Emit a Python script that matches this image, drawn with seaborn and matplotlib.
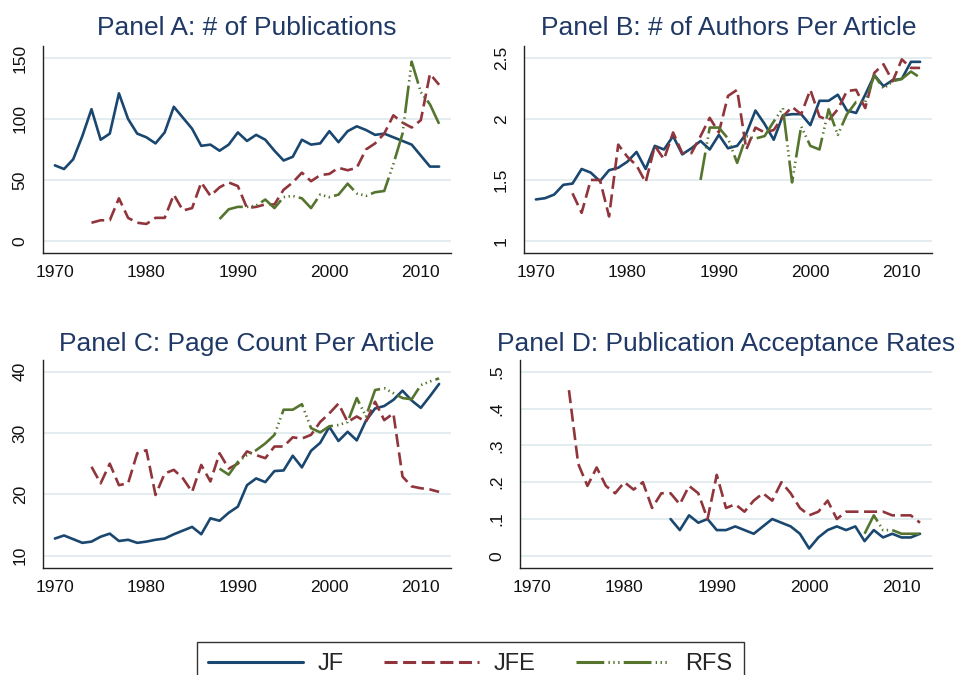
import pandas as pd
import matplotlib.pyplot as plt
import seaborn as sns
from matplotlib.lines import Line2D
from matplotlib.ticker import FuncFormatter

# years covered by each series
years_jf = list(range(1970, 2013))
years_jfe = list(range(1974, 2013))
years_rfs = list(range(1988, 2013))
years_jf_rate = list(range(1985, 2013))
years_jfe_rate = list(range(1974, 2013))
years_rfs_rate = list(range(2006, 2013))

# Panel A: number of publications
pubs_jf = [62, 59, 67, 86, 108, 83, 88, 121, 100, 88,
           85, 80, 89, 110, 101, 92, 78, 79, 74, 79,
           89, 82, 87, 83, 74, 66, 69, 83, 79, 80,
           90, 81, 90, 94, 91, 87, 88, 85, 82, 79,
           70, 61, 61]
pubs_jfe = [15, 17, 17, 35, 19, 15,
            14, 19, 19, 38, 25, 27, 48, 37, 44, 48,
            45, 27, 28, 30, 30, 42, 48, 56, 49, 54,
            55, 60, 58, 60, 75, 80, 88, 103, 97, 93,
            99, 137, 128]
pubs_rfs = [18, 26,
            28, 28, 29, 34, 27, 36, 37, 35, 27, 38,
            36, 38, 47, 39, 37, 40, 41, 63, 88, 147,
            122, 112, 96]

# Panel B: authors per article
authors_jf = [1.34, 1.35, 1.38, 1.46, 1.47, 1.59, 1.56, 1.49, 1.58, 1.60,
              1.65, 1.73, 1.59, 1.78, 1.75, 1.86, 1.71, 1.76, 1.82, 1.75,
              1.87, 1.76, 1.78, 1.88, 2.07, 1.96, 1.83, 2.03, 2.04, 2.04,
              1.95, 2.15, 2.15, 2.20, 2.07, 2.05, 2.20, 2.36, 2.27, 2.32,
              2.33, 2.47, 2.47]
authors_jfe = [1.39, 1.23, 1.50, 1.50, 1.20, 1.79,
               1.69, 1.62, 1.48, 1.78, 1.67, 1.89, 1.72, 1.72, 1.86, 2.01,
               1.89, 2.19, 2.24, 1.75, 1.93, 1.89, 1.91, 2.02, 2.10, 2.04,
               2.24, 2.02, 1.99, 2.08, 2.23, 2.24, 2.09, 2.38, 2.45, 2.31,
               2.49, 2.42, 2.42]
authors_rfs = [1.50, 1.93,
               1.93, 1.84, 1.64, 1.86, 1.84, 1.86, 1.98, 2.09, 1.48, 1.94,
               1.78, 1.75, 2.08, 1.87, 2.04, 2.14, 2.14, 2.36, 2.25, 2.31,
               2.33, 2.39, 2.34]

# Panel C: page count per article
pages_jf = [12.8, 13.3, 12.7, 12.1, 12.3, 13.1, 13.6, 12.4, 12.6, 12.1,
            12.3, 12.6, 12.8, 13.5, 14.1, 14.7, 13.5, 16.1, 15.7, 17.0,
            18.0, 21.5, 22.6, 22.0, 23.8, 23.9, 26.3, 24.4, 27.1, 28.4,
            31.0, 28.7, 30.2, 28.8, 32.0, 34.0, 34.4, 35.4, 36.9, 35.3,
            34.1, 36.0, 38.0]
pages_jfe = [24.5, 21.8, 25.0, 21.5, 21.8, 26.7,
             27.2, 19.9, 23.4, 24.0, 22.6, 20.4, 24.8, 22.1, 26.7, 24.2,
             25.0, 27.0, 26.4, 25.9, 27.8, 27.8, 29.3, 29.1, 29.7, 31.8,
             33.2, 34.8, 31.8, 32.7, 31.8, 35.1, 32.1, 33.2, 22.9, 21.3,
             21.0, 20.8, 20.4]
pages_rfs = [24.2, 23.2,
             25.3, 26.4, 27.2, 28.3, 29.7, 33.8, 33.8, 34.7, 30.8, 30.1,
             31.1, 31.3, 31.8, 35.7, 32.7, 37.0, 37.3, 36.5, 35.7, 35.5,
             37.8, 38.4, 38.9]

# Panel D: acceptance rates
rate_jf = [0.10, 0.07, 0.11, 0.09, 0.10,
           0.07, 0.07, 0.08, 0.07, 0.06, 0.08, 0.10, 0.09, 0.08, 0.06,
           0.02, 0.05, 0.07, 0.08, 0.07, 0.08, 0.04, 0.07, 0.05, 0.06,
           0.05, 0.05, 0.06]
rate_jfe = [0.45, 0.25, 0.19, 0.24, 0.19, 0.17,
            0.20, 0.18, 0.20, 0.13, 0.17, 0.17, 0.14, 0.19, 0.17, 0.10,
            0.22, 0.13, 0.14, 0.12, 0.15, 0.17, 0.15, 0.20, 0.17, 0.13,
            0.11, 0.12, 0.15, 0.10, 0.12, 0.12, 0.12, 0.12, 0.12, 0.11,
            0.11, 0.11, 0.09]
rate_rfs = [0.06, 0.11, 0.07, 0.07, 0.06, 0.06, 0.06]

journals = ["JF", "JFE", "RFS"]
colors = {"JF": "#1a476f", "JFE": "#90353b", "RFS": "#55752f"}
styles = {"JF": "-", "JFE": (0, (9.4, 4)),
          "RFS": (0, (20, 3, 1, 2.5, 1, 2.5, 1, 3))}
titles = ["Panel A: # of Publications", "Panel B: # of Authors Per Article",
          "Panel C: Page Count Per Article", "Panel D: Publication Acceptance Rates"]

sns.set_style("white")
plt.rcParams["font.family"] = ["Liberation Sans", "DejaVu Sans"]
plt.rcParams["lines.scale_dashes"] = False

fig = plt.figure(figsize=(9.58, 6.75), dpi=100)
W, H = 958, 675


def add_ax(left, top, right, bottom):
    return fig.add_axes([left / W, 1 - bottom / H, (right - left) / W, (bottom - top) / H])


axes = [add_ax(43, 46, 451, 253), add_ax(524, 46, 932, 253),
        add_ax(43, 360, 451, 568), add_ax(520, 360, 932, 568)]

panels = [
    [(years_jf, pubs_jf), (years_jfe, pubs_jfe), (years_rfs, pubs_rfs)],
    [(years_jf, authors_jf), (years_jfe, authors_jfe), (years_rfs, authors_rfs)],
    [(years_jf, pages_jf), (years_jfe, pages_jfe), (years_rfs, pages_rfs)],
    [(years_jf_rate, rate_jf), (years_jfe_rate, rate_jfe), (years_rfs_rate, rate_rfs)],
]
ylims = [(-9.8, 159.8), (0.90, 2.60), (8.0, 41.9), (-0.033, 0.532)]
yticks = [[0, 50, 100, 150], [1, 1.5, 2, 2.5], [10, 20, 30, 40],
          [0, 0.1, 0.2, 0.3, 0.4, 0.5]]
# title centre x and baseline y, in pixels
title_pos = [(247, 35), (729, 35), (247, 351), (726, 351)]

for i, ax in enumerate(axes):
    for name, (yrs, vals) in zip(journals, panels[i]):
        df = pd.DataFrame({"year": yrs, "value": vals})
        sns.lineplot(data=df, x="year", y="value", ax=ax, color=colors[name],
                     linestyle=styles[name], linewidth=1.9)
    ax.set_xlim(1968.7, 2013.3)
    ax.set_ylim(*ylims[i])
    ax.set_xticks([1970, 1980, 1990, 2000, 2010])
    ax.set_yticks(yticks[i])
    if i == 3:
        ax.yaxis.set_major_formatter(FuncFormatter(
            lambda v, p: "0" if abs(v) < 1e-9 else ("%.1f" % v).lstrip("0")))
    elif i == 1:
        ax.yaxis.set_major_formatter(FuncFormatter(lambda v, p: "%g" % v))
    ax.grid(axis="y", color="#e1ecee", linewidth=1.3)
    ax.set_axisbelow(True)
    ax.set_xlabel("")
    ax.set_ylabel("")
    for s in ["top", "right"]:
        ax.spines[s].set_visible(False)
    for s in ["left", "bottom"]:
        ax.spines[s].set_color("#222222")
        ax.spines[s].set_linewidth(1.0)
    ax.tick_params(axis="both", direction="out", length=5, width=1,
                   color="#222222", labelsize=12.5, labelcolor="#111111")
    ax.tick_params(axis="y", labelrotation=90, pad=6)
    for lab in ax.get_yticklabels():
        lab.set_va("center")
    fig.text(title_pos[i][0] / W, 1 - title_pos[i][1] / H, titles[i],
             ha="center", va="baseline", fontsize=19, color="#1f3866")

handles = [Line2D([], [], color=colors[n], linestyle=styles[n], linewidth=2.2)
           for n in journals]
leg = fig.legend(handles, journals, loc="upper center",
                 bbox_to_anchor=(470.5 / W, 1 - 630 / H), ncol=3, fontsize=17,
                 frameon=True, fancybox=False, edgecolor="black",
                 handlelength=4.0, handletextpad=0.64, columnspacing=1.7,
                 borderpad=0.47)
leg.get_frame().set_linewidth(1.0)

fig.savefig("out.png", dpi=100)
